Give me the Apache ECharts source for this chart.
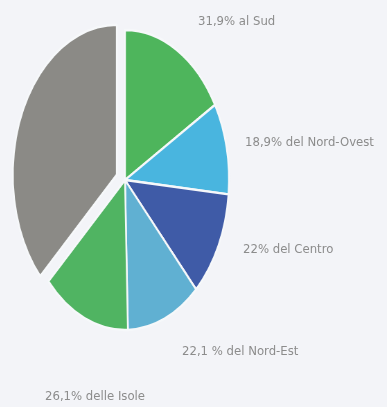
<!DOCTYPE html>
<html>
<head>
<meta charset="utf-8">
<script src="https://cdn.jsdelivr.net/npm/echarts@6/dist/echarts.min.js"></script>
<style>
  html, body { margin: 0; padding: 0; background: #f3f4f8; }
  #wrap { position: relative; width: 387px; height: 407px; overflow: hidden; }
  /* the pie is drawn round on a wider canvas, then squeezed horizontally into an upright oval */
  #pie { position: absolute; left: -100px; top: 0; width: 587px; height: 407px;
         transform: scaleX(0.693); transform-origin: 225px 180px; }
  #labels { position: absolute; left: 0; top: 0; width: 387px; height: 407px; }
</style>
</head>
<body>
<div id="wrap">
  <div id="pie"></div>
  <div id="labels"></div>
</div>
<script>
// Shares by area (percent) and the remaining, unlabelled part
const areas = ['Sud', 'Nord-Ovest', 'Centro', 'Nord-Est', 'Isole'];
const shares = [31.9, 18.9, 22, 22.1, 26.1];
const restShare = 70.5;
const labelTexts = ['31,9% al Sud', '18,9% del Nord-Ovest', '22% del Centro', '22,1 % del Nord-Est', '26,1% delle Isole'];
const areaColors = ['#4eb55c', '#49b5df', '#3f5ba7', '#60b0d2', '#50b462'];
const restColor = '#8b8a86';

const pieData = areas.map((name, i) => ({
  name: name,
  value: shares[i],
  itemStyle: { color: areaColors[i] }
}));
pieData.push({ name: 'Resto', value: restShare, selected: true, itemStyle: { color: restColor } });

const pie = echarts.init(document.getElementById('pie'), null, { renderer: 'canvas' });
pie.setOption({
  backgroundColor: 'transparent',
  animation: false,
  series: [{
    type: 'pie',
    center: [225, 180],
    radius: [0, 150],
    startAngle: 90,
    clockwise: true,
    selectedMode: 'single',
    selectedOffset: 13,
    avoidLabelOverlap: false,
    label: { show: false },
    labelLine: { show: false },
    emphasis: { disabled: true },
    itemStyle: { borderColor: '#f6f8fa', borderWidth: 2.5 },
    data: pieData
  }]
});

// Text positions for each area label
const labelPos = [[198, 22], [245, 143], [243, 250], [182, 352], [45, 397]];
const labels = echarts.init(document.getElementById('labels'), null, { renderer: 'canvas' });
labels.setOption({
  backgroundColor: 'transparent',
  animation: false,
  graphic: labelTexts.map((t, i) => ({
    type: 'text',
    x: labelPos[i][0],
    y: labelPos[i][1],
    style: {
      text: t,
      fill: '#8c8c8c',
      font: '13px "Liberation Sans Narrow", "DejaVu Sans Condensed", sans-serif',
      textAlign: 'left',
      textVerticalAlign: 'middle'
    }
  }))
});
</script>
</body>
</html>
